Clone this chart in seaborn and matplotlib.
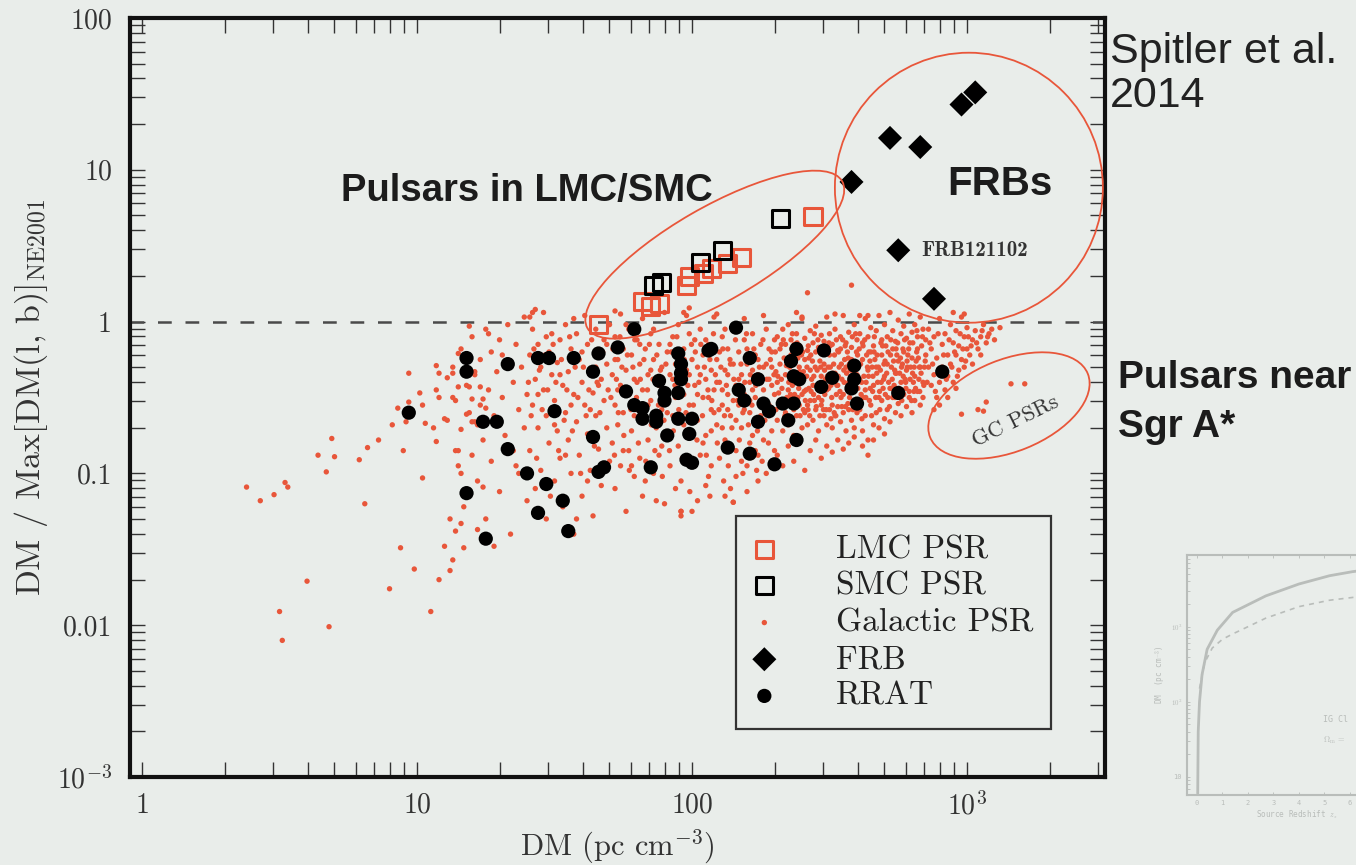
import numpy as np
import pandas as pd
import matplotlib
matplotlib.use("Agg")
import matplotlib.pyplot as plt
import seaborn as sns
from matplotlib.patches import Ellipse
from matplotlib.transforms import IdentityTransform
from matplotlib.ticker import LogLocator, NullFormatter

# ---------------- data: log10(DM), log10(DM / DMmax) ----------------
lmc_log_dm    = [1.66, 1.82, 1.85, 1.88, 1.98, 1.99, 2.04, 2.07, 2.13, 2.18, 2.44]
lmc_log_ratio = [-0.02, 0.13, 0.10, 0.12, 0.24, 0.30, 0.32, 0.35, 0.38, 0.42, 0.69]
smc_log_dm    = [1.86, 1.89, 2.03, 2.11, 2.32]
smc_log_ratio = [0.24, 0.26, 0.39, 0.47, 0.68]
frb_log_dm    = [2.58, 2.72, 2.83, 2.98, 3.03, 2.75, 2.88]
frb_log_ratio = [0.92, 1.21, 1.15, 1.43, 1.51, 0.47, 0.15]

rrat_log_dm = [0.97,1.18,1.18,1.24,1.29,1.33,1.33,1.18,1.40,1.47,
               1.44,1.53,1.55,1.25,1.44,1.48,1.57,1.66,1.64,1.73,
               1.79,2.16,1.50,1.64,1.66,1.68,1.85,1.76,1.79,1.82,
               1.82,1.87,1.87,1.88,1.90,1.90,1.95,1.96,1.96,1.96,
               1.95,1.91,1.95,2.00,1.99,1.98,2.00,2.06,2.07,2.13,
               2.21,2.24,2.17,2.19,2.26,2.28,2.24,2.33,2.37,2.35,
               2.38,2.21,2.30,2.38,2.36,2.37,2.39,2.48,2.47,2.51,
               2.59,2.59,2.58,2.60,2.75,2.91]
rrat_log_ratio = [-0.60,-0.24,-0.33,-0.66,-0.66,-0.28,-0.84,-1.13,-1.00,-1.07,
                  -1.26,-1.18,-1.38,-1.43,-0.24,-0.24,-0.24,-0.21,-0.33,-0.17,
                  -0.05,-0.04,-0.59,-0.76,-0.99,-0.96,-0.96,-0.46,-0.55,-0.57,
                  -0.64,-0.62,-0.66,-0.39,-0.47,-0.52,-0.21,-0.28,-0.34,-0.38,
                  -0.47,-0.75,-0.64,-0.64,-0.74,-0.91,-0.93,-0.19,-0.18,-0.83,
                  -0.24,-0.38,-0.45,-0.52,-0.54,-0.59,-0.66,-0.54,-0.54,-0.65,
                  -0.78,-0.87,-0.94,-0.18,-0.26,-0.36,-0.38,-0.19,-0.43,-0.37,
                  -0.29,-0.38,-0.44,-0.54,-0.47,-0.33]

# Galactic pulsars, [log10 DM, log10 ratio] pairs, grouped by DM range
galactic_tail = [[0.38,-1.09],[0.43,-1.18],[0.48,-1.14],[0.52,-1.06],[0.53,-1.09],[0.64,-0.88],[0.67,-0.99],
    [0.69,-0.77],[0.70,-0.89],[0.79,-0.91],[0.81,-1.20],[0.82,-0.83],[0.86,-0.78],[0.91,-0.68],[0.93,-0.57],
    [0.95,-0.85],[0.96,-0.66],[0.97,-0.34],[0.97,-0.53],[1.01,-0.47],[1.02,-0.55],[1.02,-1.03],[1.03,-0.67],
    [1.06,-0.70],[1.07,-0.79],[1.07,-0.29],[1.07,-0.45],[1.08,-0.34],[1.11,-0.65],[1.13,-0.34],[1.14,-0.85],
    [0.94,-1.49],[0.99,-1.63],[1.08,-1.70],[1.10,-1.48],[1.13,-1.57],[1.12,-1.64],[0.60,-1.71],[0.50,-1.91],
    [0.51,-2.10],[0.68,-2.01],[0.90,-1.76],[1.05,-1.91],[1.15,-0.21],[1.21,-0.33],[1.26,-0.08],[1.20,-0.66],
    [1.15,-0.85],[1.16,-1.00],[1.24,-1.09],[1.12,-1.30],[1.16,-1.33],[1.22,-1.37],[1.17,-1.49],[1.11,-0.37],
    [1.15,-0.43],[1.19,-0.43],[1.23,-0.43],[1.08,-0.50],[1.13,-0.50],[1.20,-0.51],[1.24,-0.51],[1.25,-0.57],
    [1.18,-0.61],[1.10,-0.64],[1.21,-0.66]]
galactic_a = [[1.13,-0.30],[1.14,-0.52],[1.15,-0.95],[1.16,-0.18],[1.16,-0.71],[1.17,-1.22],[1.18,-0.42],
    [1.19,-0.60],[1.20,-0.10],[1.20,-0.88],[1.21,-0.35],[1.22,-1.05],[1.23,-0.25],[1.23,-0.55],[1.24,-0.78],
    [1.25,-0.05],[1.25,-1.30],[1.26,-0.45],[1.27,-0.20],[1.27,-0.92],[1.28,-0.62],[1.29,-0.33],[1.30,-0.12],
    [1.30,-1.12],[1.31,-0.50],[1.32,-0.75],[1.33,-0.28],[1.33,-0.02],[1.34,-1.40],[1.35,-0.40],[1.35,-0.85],
    [1.36,-0.15],[1.37,-0.58],[1.37,-1.00],[1.38,-0.30],[1.39,-0.70],[1.39,0.03],[1.40,-0.48],[1.40,-1.18],
    [1.14,-1.38],[1.19,-0.03],[1.28,-1.48],[1.22,-0.68],[1.31,-0.22],[1.36,-0.95]]
galactic_b = [[1.41,-0.22],[1.41,-0.85],[1.42,-0.05],[1.42,-0.55],[1.43,-0.38],[1.43,-1.10],[1.44,-0.15],
    [1.44,-0.70],[1.45,-0.30],[1.45,-0.98],[1.46,0.06],[1.46,-0.45],[1.47,-0.62],[1.47,-1.30],[1.48,-0.20],
    [1.48,-0.80],[1.49,-0.35],[1.49,-0.08],[1.50,-0.52],[1.50,-1.05],[1.51,-0.27],[1.51,-0.72],[1.52,-0.12],
    [1.52,-0.90],[1.53,-0.42],[1.53,-1.22],[1.54,-0.02],[1.54,-0.60],[1.55,-0.33],[1.55,-0.78],[1.56,-0.18],
    [1.56,-1.00],[1.57,-0.48],[1.57,-1.40],[1.58,-0.08],[1.58,-0.66],[1.59,-0.25],[1.59,-0.88],[1.60,-0.40],
    [1.60,-1.15],[1.61,0.04],[1.61,-0.55],[1.62,-0.15],[1.62,-0.74],[1.63,-0.32],[1.63,-0.98],[1.64,-0.47],
    [1.64,-1.28],[1.65,-0.05],[1.65,-0.62],[1.66,-0.22],[1.66,-0.84],[1.67,-0.38],[1.67,-1.08],[1.68,-0.12],
    [1.68,-0.52],[1.69,-0.70],[1.69,-0.28],[1.70,-0.92],[1.70,-0.02],[1.44,-0.48],[1.47,-0.10],[1.52,-0.35],
    [1.56,-0.55],[1.60,-0.20],[1.63,-0.58],[1.66,-0.42],[1.69,-0.15],[1.58,-1.30],[1.50,-0.68],[1.54,-0.88],
    [1.62,-1.05],[1.43,0.08],[1.65,-0.30],[1.57,0.02],
    [1.405,-0.40],[1.415,-0.62],[1.425,-0.18],[1.435,-0.90],[1.445,-0.32],[1.455,-0.58],[1.465,-0.22],
    [1.475,-0.45],[1.485,-1.15],[1.495,-0.15],[1.505,-0.40],[1.515,-0.85],[1.525,-0.25],[1.535,-0.65],
    [1.545,-0.45],[1.555,-0.10],[1.565,-0.72],[1.575,-0.30],[1.585,-0.50],[1.595,-1.00],[1.605,-0.30],
    [1.615,-0.62],[1.625,-0.45],[1.635,-0.12],[1.645,-0.82],[1.655,-0.40],[1.665,-0.60],[1.675,-0.20],
    [1.685,-0.95],[1.695,-0.45]]
galactic_c = [[1.71,-0.35],[1.71,-0.80],[1.72,-0.10],[1.72,-0.55],[1.72,-1.10],[1.73,-0.25],[1.73,-0.68],
    [1.74,-0.42],[1.74,0.05],[1.74,-0.95],[1.75,-0.18],[1.75,-0.60],[1.76,-0.32],[1.76,-1.25],[1.77,-0.05],
    [1.77,-0.48],[1.77,-0.85],[1.78,-0.22],[1.78,-0.72],[1.79,-0.38],[1.79,-1.02],[1.80,-0.12],[1.80,-0.58],
    [1.81,-0.28],[1.81,-0.90],[1.82,0.02],[1.82,-0.45],[1.82,-1.15],[1.83,-0.18],[1.83,-0.65],[1.84,-0.35],
    [1.84,-0.78],[1.85,-0.08],[1.85,-0.52],[1.86,-0.25],[1.86,-1.00],[1.87,-0.40],[1.87,-0.70],[1.88,-0.15],
    [1.88,-0.88],[1.89,-0.30],[1.89,-0.58],[1.90,0.06],[1.90,-0.45],[1.90,-1.20],[1.91,-0.20],[1.91,-0.75],
    [1.92,-0.35],[1.92,-0.95],[1.93,-0.10],[1.93,-0.62],[1.94,-0.28],[1.94,-0.50],[1.95,-0.82],[1.95,-0.02],
    [1.96,-0.40],[1.96,-1.05],[1.97,-0.18],[1.97,-0.68],[1.98,-0.32],[1.98,-0.90],[1.99,-0.08],[1.99,-0.55],
    [2.00,-0.25],[2.00,-0.75],[1.73,-0.45],[1.76,-0.02],[1.79,-0.62],[1.81,-0.15],[1.84,-0.55],[1.86,-0.05],
    [1.88,-0.42],[1.91,-0.60],[1.93,-0.38],[1.95,-0.22],[1.97,-0.48],[1.99,-0.35],[1.75,-0.85],[1.80,-0.40],
    [1.85,-0.32],[1.89,-0.82],[1.92,-0.15],[1.96,-0.62],[1.98,0.04],[1.78,-0.95],[1.83,-1.05],[1.87,-1.18],
    [1.94,-1.10],[1.96,-1.25],[1.72,-0.25],
    [1.705,-0.50],[1.712,-0.18],[1.718,-0.88],[1.725,-0.38],[1.732,-0.60],[1.738,-0.10],[1.745,-0.30],
    [1.752,-0.75],[1.758,-0.45],[1.765,-0.22],[1.772,-0.98],[1.778,-0.58],[1.785,-0.30],[1.792,-0.12],
    [1.798,-0.50],[1.805,-0.80],[1.812,-0.38],[1.818,-0.62],[1.825,-0.25],[1.832,-0.92],[1.838,-0.45],
    [1.845,-0.15],[1.852,-0.68],[1.858,-0.38],[1.865,-0.85],[1.872,-0.22],[1.878,-0.55],[1.885,-0.32],
    [1.892,-1.02],[1.898,-0.65],[1.905,-0.28],[1.912,-0.48],[1.918,-0.85],[1.925,-0.20],[1.932,-0.72],
    [1.938,-0.42],[1.945,-0.10],[1.952,-0.58],[1.958,-0.32],[1.965,-0.90],[1.972,-0.25],[1.978,-0.60],
    [1.985,-0.42],[1.992,-1.12],[1.998,-0.15]]
galactic_d = [[2.01,-0.42],[2.01,-0.12],[2.02,-0.65],[2.02,-0.30],[2.03,-0.88],[2.03,-0.05],[2.04,-0.50],
    [2.04,-0.22],[2.05,-0.75],[2.05,-0.38],[2.06,-1.02],[2.06,-0.15],[2.07,-0.58],[2.07,-0.32],[2.08,-0.45],
    [2.08,0.03],[2.09,-0.68],[2.09,-0.25],[2.10,-0.90],[2.10,-0.40],[2.11,-0.10],[2.11,-0.55],[2.12,-0.32],
    [2.12,-0.78],[2.13,-0.48],[2.13,-0.18],[2.14,-1.10],[2.14,-0.62],[2.15,-0.28],[2.15,-0.05],[2.16,-0.42],
    [2.16,-0.85],[2.17,-0.20],[2.17,-0.55],[2.18,-0.35],[2.18,-0.70],[2.19,-0.12],[2.19,-0.48],[2.20,-0.95],
    [2.20,-0.28],[2.21,-0.60],[2.21,-0.40],[2.22,-0.08],[2.22,-0.75],[2.23,-0.50],[2.23,-0.22],[2.24,-0.35],
    [2.24,-0.88],[2.25,-0.15],[2.25,-0.62],[2.26,-0.45],[2.26,-0.30],[2.27,-1.00],[2.27,-0.05],[2.28,-0.55],
    [2.28,-0.38],[2.29,-0.20],[2.29,-0.72],[2.30,-0.48],[2.30,-0.85],[2.02,-0.48],[2.04,-0.80],[2.05,-0.12],
    [2.07,-0.95],[2.08,-0.60],[2.09,-0.40],[2.11,-0.70],[2.12,-0.05],[2.13,-0.35],[2.15,-0.52],[2.16,-0.65],
    [2.17,-0.38],[2.18,-0.92],[2.19,-0.58],[2.20,-0.18],[2.21,-0.80],[2.22,-0.45],[2.23,-0.65],[2.24,-0.25],
    [2.25,-0.40],[2.26,-0.78],[2.27,-0.28],[2.28,-0.62],[2.29,-0.42],[2.30,-0.12],[2.03,-0.35],[2.06,-0.50],
    [2.10,-0.20],[2.14,-0.28],[2.18,-0.48],[2.22,-0.32],[2.26,-0.55],[2.29,-0.30],[2.01,-0.95],[2.05,-1.08],
    [2.12,-1.15],[2.16,-1.02],[2.20,-1.12],[2.24,-1.05],[2.15,-1.19],[2.09,0.05],[2.19,0.02],[2.26,0.04],
    [2.21,-0.52],[2.13,-0.58],[2.07,-0.72],[2.11,-0.45],[2.17,-0.05],[2.23,-0.85],[2.28,-0.18],[2.00,-1.25],
    [1.96,-1.28],[2.02,-1.18],
    [2.005,-0.55],[2.012,-0.20],[2.018,-0.78],[2.025,-0.40],[2.032,-0.15],[2.038,-0.62],[2.045,-0.30],
    [2.052,-0.88],[2.058,-0.45],[2.065,-0.25],[2.072,-0.52],[2.078,-0.08],[2.085,-0.35],[2.092,-0.80],
    [2.098,-0.58],[2.105,-0.30],[2.112,-0.18],[2.118,-0.62],[2.125,-0.42],[2.132,-0.95],[2.138,-0.25],
    [2.145,-0.70],[2.152,-0.38],[2.158,-0.12],[2.165,-0.52],[2.172,-0.78],[2.178,-0.28],[2.185,-0.60],
    [2.192,-0.40],[2.198,-0.08],[2.205,-0.68],[2.212,-0.35],[2.218,-0.55],[2.225,-0.18],[2.232,-0.42],
    [2.238,-0.72],[2.245,-0.30],[2.252,-0.52],[2.258,-0.12],[2.265,-0.65],[2.272,-0.38],[2.278,-0.80],
    [2.285,-0.25],[2.292,-0.58],[2.298,-0.35],[2.115,-1.05],[2.185,-1.00],[2.255,-0.92],[2.065,-1.15],
    [2.235,-0.98]]
galactic_e = [[2.31,-0.40],[2.32,-0.28],[2.33,-0.52],[2.34,-0.35],[2.35,-0.45],[2.36,-0.22],[2.37,-0.58],
    [2.38,-0.38],[2.39,-0.30],[2.40,-0.48],[2.41,-0.25],[2.42,-0.55],[2.43,-0.32],[2.44,-0.42],[2.45,-0.20],
    [2.46,-0.50],[2.47,-0.36],[2.48,-0.28],[2.49,-0.45],[2.50,-0.22],[2.51,-0.55],[2.52,-0.34],[2.53,-0.42],
    [2.54,-0.18],[2.55,-0.48],[2.56,-0.30],[2.57,-0.40],[2.58,-0.25],[2.59,-0.52],[2.60,-0.35],
    [2.31,-0.10],[2.32,-0.18],[2.33,-0.05],[2.34,-0.15],[2.35,-0.02],[2.36,-0.12],[2.37,-0.20],[2.38,-0.08],
    [2.39,-0.16],[2.40,0.02],[2.41,-0.11],[2.42,-0.19],[2.43,-0.06],[2.44,-0.14],[2.45,-0.03],[2.46,-0.17],
    [2.47,-0.09],[2.48,-0.13],[2.49,0.03],[2.50,-0.08],[2.51,-0.15],[2.52,-0.05],[2.53,-0.19],[2.54,-0.10],
    [2.55,0.04],[2.56,-0.14],[2.57,-0.07],[2.58,-0.17],[2.59,-0.02],[2.60,-0.12],
    [2.31,-0.65],[2.32,-0.55],[2.33,-0.72],[2.34,-0.60],[2.35,-0.68],[2.36,-0.50],[2.37,-0.75],[2.38,-0.62],
    [2.39,-0.55],[2.40,-0.70],[2.41,-0.60],[2.42,-0.68],[2.43,-0.52],[2.44,-0.65],[2.45,-0.58],[2.46,-0.72],
    [2.47,-0.55],[2.48,-0.62],[2.49,-0.68],[2.50,-0.58],[2.51,-0.70],[2.52,-0.62],[2.53,-0.56],[2.54,-0.66],
    [2.55,-0.60],[2.56,-0.72],[2.57,-0.58],[2.58,-0.65],[2.59,-0.70],[2.60,-0.60],
    [2.305,-0.33],[2.315,-0.47],[2.325,-0.38],[2.335,-0.24],[2.345,-0.50],[2.355,-0.30],[2.365,-0.42],
    [2.375,-0.27],[2.385,-0.50],[2.395,-0.40],[2.405,-0.33],[2.415,-0.45],[2.425,-0.24],[2.435,-0.38],
    [2.445,-0.52],[2.455,-0.32],[2.465,-0.26],[2.475,-0.46],[2.485,-0.38],[2.495,-0.30],[2.505,-0.42],
    [2.515,-0.28],[2.525,-0.48],[2.535,-0.30],[2.545,-0.38],[2.555,-0.25],[2.565,-0.45],[2.575,-0.32],
    [2.585,-0.43],[2.595,-0.27],
    [2.31,-0.88],[2.33,-0.95],[2.35,-0.82],[2.37,-0.92],[2.39,-0.80],[2.41,-0.98],[2.43,-0.85],[2.45,-0.78],
    [2.47,-0.90],[2.49,-0.82],[2.51,-0.86],[2.53,-0.78],[2.55,-0.84],[2.57,-0.80],[2.59,-0.76],
    [2.305,-0.58],[2.325,-0.15],[2.345,-0.62],[2.365,-0.08],[2.385,-0.24],[2.405,-0.58],[2.425,-0.44],
    [2.445,-0.08],[2.465,-0.62],[2.485,-0.20],[2.505,-0.64],[2.525,-0.12],[2.545,-0.56],[2.565,-0.20],
    [2.585,-0.58],[2.595,-0.08],[2.38,0.06],[2.52,0.05],
    [2.303,-0.20],[2.312,-0.36],[2.318,-0.52],[2.327,-0.44],[2.332,-0.12],[2.338,-0.62],[2.343,-0.29],
    [2.352,-0.40],[2.358,-0.55],[2.363,-0.18],[2.368,-0.34],[2.373,-0.48],[2.382,-0.14],[2.388,-0.44],
    [2.393,-0.62],[2.398,-0.22],[2.403,-0.38],[2.412,-0.52],[2.418,-0.30],[2.423,-0.16],[2.428,-0.62],
    [2.433,-0.46],[2.438,-0.26],[2.443,-0.36],[2.452,-0.56],[2.458,-0.12],[2.463,-0.44],[2.468,-0.30],
    [2.473,-0.20],[2.478,-0.58],[2.483,-0.48],[2.492,-0.36],[2.498,-0.14],[2.503,-0.30],[2.508,-0.50],
    [2.513,-0.40],[2.518,-0.22],[2.523,-0.62],[2.532,-0.36],[2.538,-0.46],[2.543,-0.28],[2.548,-0.12],
    [2.553,-0.40],[2.558,-0.56],[2.562,-0.34],[2.568,-0.24],[2.573,-0.50],[2.578,-0.40],[2.583,-0.10],
    [2.588,-0.34],[2.593,-0.44],[2.598,-0.20]]
galactic_core = [[2.352,-0.25],[2.358,-0.48],[2.362,-0.36],[2.372,-0.15],[2.378,-0.54],[2.392,-0.33],
    [2.402,-0.20],[2.408,-0.46],[2.417,-0.36],[2.422,-0.58],[2.432,-0.22],[2.442,-0.48],[2.448,-0.30],
    [2.457,-0.42],[2.462,-0.18],[2.472,-0.52],[2.482,-0.32],[2.488,-0.58],[2.497,-0.44],[2.502,-0.16],
    [2.512,-0.34],[2.517,-0.60],[2.527,-0.42],[2.533,-0.20],[2.542,-0.50],[2.552,-0.32],[2.557,-0.16],
    [2.567,-0.54],[2.572,-0.28],[2.582,-0.46],[2.592,-0.36],[2.602,-0.22],[2.607,-0.54],[2.617,-0.40],
    [2.622,-0.16],[2.632,-0.50],[2.642,-0.36],[2.647,-0.26],[2.657,-0.46],[2.662,-0.20],[2.672,-0.34],
    [2.682,-0.46],[2.687,-0.14],[2.697,-0.38],[2.702,-0.26],[2.712,-0.50],[2.722,-0.22],[2.727,-0.44],
    [2.737,-0.32],[2.742,-0.18],[2.752,-0.46],[2.762,-0.30],[2.767,-0.18],[2.777,-0.40],[2.782,-0.26],
    [2.792,-0.14],[2.802,-0.34],[2.807,-0.46],[2.817,-0.20],[2.827,-0.30]]
galactic_f = [[2.61,-0.38],[2.62,-0.25],[2.63,-0.45],[2.64,-0.32],[2.65,-0.20],[2.66,-0.42],[2.67,-0.30],
    [2.68,-0.50],[2.69,-0.22],[2.70,-0.36],[2.71,-0.28],[2.72,-0.44],[2.73,-0.18],[2.74,-0.34],[2.75,-0.26],
    [2.76,-0.40],[2.77,-0.20],[2.78,-0.32],[2.79,-0.46],[2.80,-0.24],[2.81,-0.36],[2.82,-0.18],[2.83,-0.30],
    [2.84,-0.40],[2.85,-0.22],
    [2.61,-0.08],[2.62,-0.14],[2.63,0.02],[2.64,-0.10],[2.65,-0.04],[2.66,-0.16],[2.67,-0.06],[2.68,0.04],
    [2.69,-0.12],[2.70,-0.02],[2.71,-0.10],[2.72,0.06],[2.73,-0.06],[2.74,-0.13],[2.75,0.01],[2.76,-0.08],
    [2.77,-0.03],[2.78,-0.11],[2.79,0.05],[2.80,-0.07],[2.81,-0.02],[2.82,-0.10],[2.83,0.03],[2.84,-0.05],
    [2.85,-0.12],
    [2.61,-0.58],[2.62,-0.72],[2.63,-0.62],[2.64,-0.78],[2.65,-0.55],[2.66,-0.68],[2.67,-0.60],[2.68,-0.70],
    [2.69,-0.52],[2.70,-0.64],[2.71,-0.58],[2.72,-0.66],[2.73,-0.50],[2.74,-0.60],[2.75,-0.54],[2.76,-0.62],
    [2.77,-0.48],[2.78,-0.56],[2.79,-0.50],[2.80,-0.60],[2.81,-0.52],[2.82,-0.46],[2.83,-0.55],[2.84,-0.50],
    [2.605,-0.30],[2.615,-0.48],[2.625,-0.36],[2.635,-0.22],[2.645,-0.52],[2.655,-0.30],[2.665,-0.25],
    [2.675,-0.40],[2.685,-0.32],[2.695,-0.44],[2.705,-0.16],[2.715,-0.40],[2.725,-0.30],[2.735,-0.42],
    [2.745,-0.22],[2.755,-0.34],[2.765,-0.28],[2.775,-0.38],[2.785,-0.22],[2.795,-0.30],[2.805,-0.40],
    [2.815,-0.26],[2.825,-0.38],[2.835,-0.16],[2.845,-0.30],
    [2.62,-0.82],[2.66,-0.78],[2.70,-0.74],[2.64,-0.88],
    [2.603,-0.44],[2.608,-0.18],[2.613,-0.28],[2.618,-0.64],[2.623,-0.50],[2.628,-0.12],[2.633,-0.40],
    [2.638,-0.30],[2.643,-0.20],[2.648,-0.44],[2.653,-0.62],[2.658,-0.36],[2.663,-0.10],[2.668,-0.50],
    [2.673,-0.22],[2.678,-0.30],[2.683,-0.58],[2.688,-0.40],[2.693,-0.16],[2.698,-0.28],[2.703,-0.48],
    [2.708,-0.34],[2.713,-0.20],[2.718,-0.56],[2.723,-0.12],[2.728,-0.38],[2.733,-0.26],[2.738,-0.50],
    [2.743,-0.34],[2.748,-0.14],[2.753,-0.44],[2.758,-0.24],[2.763,-0.52],[2.768,-0.36],[2.773,-0.12],
    [2.778,-0.44],[2.783,-0.30],[2.788,-0.18],[2.793,-0.38],[2.798,-0.52],[2.803,-0.14],[2.808,-0.30],
    [2.813,-0.44],[2.818,-0.06],[2.823,-0.24],[2.828,-0.46],[2.833,-0.34],[2.838,-0.10],[2.843,-0.42],
    [2.848,-0.26]]
galactic_g = [[2.86,-0.30],[2.86,-0.05],[2.87,-0.42],[2.87,-0.18],[2.88,-0.10],[2.88,-0.35],[2.89,-0.50],
    [2.89,-0.24],[2.90,0.02],[2.90,-0.40],[2.91,-0.15],[2.91,-0.30],[2.92,-0.45],[2.92,-0.08],[2.93,-0.22],
    [2.93,-0.36],[2.94,-0.02],[2.94,-0.28],[2.95,-0.14],[2.95,-0.40],[2.96,-0.22],[2.96,-0.06],[2.97,-0.32],
    [2.97,-0.16],[2.98,-0.25],[2.98,0.03],[2.99,-0.10],[2.99,-0.30],[3.00,-0.18],[3.00,-0.04],[3.01,-0.22],
    [3.02,-0.12],[3.02,-0.28],[3.03,-0.06],[3.04,-0.18],[3.05,-0.10],[3.05,-0.22],[3.06,-0.02],[3.07,-0.14],
    [3.08,-0.08],[3.09,-0.05],[3.10,-0.12],[2.88,-0.58],[2.90,-0.55],[2.93,-0.50],[2.96,-0.44],[3.12,-0.04],
    [2.855,-0.40],[2.865,-0.14],[2.875,-0.28],[2.885,-0.46],[2.895,-0.08],[2.905,-0.32],[2.915,-0.22],
    [2.925,-0.38],[2.935,-0.12],[2.945,-0.30],[2.955,-0.20],[2.965,-0.36],[2.975,-0.08],[2.985,-0.18],
    [2.995,-0.26],[3.005,-0.10],[3.015,-0.16],[3.035,-0.14],[3.055,-0.06],[3.075,-0.10]]
galactic_outliers = [[1.42,0.06],[1.72,0.07],[1.97,0.06],[1.99,0.09],[2.42,0.19],[2.58,0.24],[2.61,0.04],
    [2.64,0.04],[2.95,0.06],[2.99,0.05],[2.40,0.03],[1.41,0.03],[2.15,-1.19],[1.96,-1.25]]
galactic_gc = [[2.98,-0.61],[3.04,-0.58],[3.06,-0.59],[3.07,-0.53],[3.16,-0.41],[3.21,-0.41]]

# faint inset (part of a second figure at the slide edge)
inset_z_solid  = [0.03, 0.05, 0.10, 0.20, 0.40, 0.80, 1.40, 2.70, 4.00, 5.20, 6.10, 7.50]
inset_dm_solid = [6, 40, 100, 230, 500, 900, 1550, 2570, 3700, 4770, 5400, 6200]
inset_z_dash   = [0.10, 0.30, 0.60, 1.00, 1.40, 2.00, 2.70, 4.00, 5.20, 6.10, 7.50]
inset_dm_dash  = [150, 330, 520, 680, 800, 1000, 1300, 1850, 2250, 2450, 2700]

x_ticks = [1, 10, 100, 1000]
x_tick_labels = ["1", "10", "100", r"$10^3$"]
y_ticks = [1e-3, 1e-2, 1e-1, 1, 10, 100]
y_tick_labels = [r"$10^{-3}$", "0.01", "0.1", "1", "10", "100"]

# ---------------- style ----------------
BG = "#e9edea"
RED = "#e8563a"
DARK = "#1c1c1c"

sns.set_theme(style="ticks")
plt.rcParams["font.family"] = ["cmr10", "DejaVu Serif"]
plt.rcParams["mathtext.fontset"] = "cm"
plt.rcParams["axes.unicode_minus"] = False
plt.rcParams["axes.formatter.use_mathtext"] = True

W, H = 1356, 865
fig = plt.figure(figsize=(W / 100, H / 100), dpi=100, facecolor=BG)
ax = fig.add_axes([130 / W, 1 - 777 / H, 975 / W, 759 / H])
ax.set_facecolor(BG)
ax.set_xscale("log")
ax.set_yscale("log")
ax.set_xlim(0.904, 3176)
ax.set_ylim(1e-3, 100)


def frame(log_dm, log_ratio):
    return pd.DataFrame({"dm": 10 ** np.asarray(log_dm, float),
                         "ratio": 10 ** np.asarray(log_ratio, float)})


galactic = np.array(galactic_tail + galactic_a + galactic_b + galactic_c + galactic_d +
                    galactic_e + galactic_core + galactic_f + galactic_g + galactic_outliers +
                    galactic_gc)
gal_df = frame(galactic[:, 0], galactic[:, 1])

sns.scatterplot(data=gal_df, x="dm", y="ratio", ax=ax, s=15, color=RED, edgecolor="none",
                linewidth=0, label="Galactic PSR", zorder=2)
sns.scatterplot(data=frame(rrat_log_dm, rrat_log_ratio), x="dm", y="ratio", ax=ax, s=105,
                color="black", edgecolor="none", linewidth=0, label="RRAT", zorder=3)
sns.scatterplot(data=frame(lmc_log_dm, lmc_log_ratio), x="dm", y="ratio", ax=ax, marker="s",
                s=150, facecolor="none", edgecolor=RED, linewidth=2.2, label="LMC PSR", zorder=4)
sns.scatterplot(data=frame(smc_log_dm, smc_log_ratio), x="dm", y="ratio", ax=ax, marker="s",
                s=150, facecolor="none", edgecolor="black", linewidth=2.2, label="SMC PSR", zorder=4)
sns.scatterplot(data=frame(frb_log_dm, frb_log_ratio), x="dm", y="ratio", ax=ax, marker="D",
                s=150, color="black", edgecolor="none", linewidth=0, label="FRB", zorder=5)

ax.axhline(1.0, color="#4a4a4a", lw=1.8, dashes=(5.5, 5.5), zorder=1)

# axes cosmetics
for sp in ax.spines.values():
    sp.set_linewidth(3)
    sp.set_color("#111111")
ax.set_xticks(x_ticks, x_tick_labels)
ax.set_yticks(y_ticks, y_tick_labels)
ax.xaxis.set_minor_locator(LogLocator(base=10, subs=np.arange(2, 10)))
ax.yaxis.set_minor_locator(LogLocator(base=10, subs=np.arange(2, 10), numticks=20))
ax.xaxis.set_minor_formatter(NullFormatter())
ax.yaxis.set_minor_formatter(NullFormatter())
ax.tick_params(which="both", direction="in", top=True, right=True, length=11, width=1.0,
               color="#333333")
ax.tick_params(which="major", labelsize=20, labelcolor="#333333")
ax.tick_params(axis="y", which="major", pad=13)
ax.tick_params(axis="x", which="major", pad=11)
ax.set_xlabel(r"DM (pc cm$^{-3}$)", fontsize=22, color="#333333", labelpad=5)
ax.set_ylabel(r"DM / Max[DM(l, b)]$_{\rm NE2001}$", fontsize=24.5, color="#333333", labelpad=5)

# legend
handles, labels = ax.get_legend_handles_labels()
order = ["LMC PSR", "SMC PSR", "Galactic PSR", "FRB", "RRAT"]
hmap = dict(zip(labels, handles))
leg = ax.legend([hmap[k] for k in order], order, loc="lower left",
                bbox_to_anchor=(606 / 975, 48 / 759), fontsize=24, frameon=True, fancybox=False,
                framealpha=1, facecolor=BG, edgecolor="#333333", borderpad=0.55,
                handlelength=0.6, handletextpad=1.84, labelspacing=0.22, borderaxespad=0)
leg.get_frame().set_linewidth(1.6)
for t in leg.get_texts():
    t.set_color("#222222")

# annotation rings (drawn in screen pixels, anchored at data points)
def ring(dm, ratio, a_px, b_px, angle):
    cx, cy = ax.transData.transform((dm, ratio))
    e = Ellipse((cx, cy), 2 * a_px, 2 * b_px, angle=angle, transform=IdentityTransform(),
                fill=False, edgecolor=RED, lw=1.3, zorder=6)
    fig.add_artist(e)

ring(121, 2.76, 147, 47, 30)
ring(1016, 7.62, 134, 135, 0)
ring(1421, 0.28, 85, 46, 22)

SANS = "Liberation Sans"
ax.text(25.1, 7.28, "Pulsars in LMC/SMC", family=SANS, weight="bold", fontsize=27.5,
        color=DARK, ha="center", va="center", zorder=7)
ax.text(1318, 8.1, "FRBs", family=SANS, weight="bold", fontsize=29, color=DARK,
        ha="center", va="center", zorder=7)
ax.text(680, 2.93, "FRB121102", family="cmb10", fontsize=15, color="#333333",
        ha="left", va="center", zorder=7)
ax.text(1496, 0.22, "GC PSRs", fontsize=16, color="#333333", rotation=26,
        ha="center", va="center", rotation_mode="anchor", zorder=7)

fig.text(1110 / W, 1 - 63 / H, "Spitler et al.", family=SANS, fontsize=31, color="#222222",
         ha="left", va="baseline")
fig.text(1110 / W, 1 - 107 / H, "2014", family=SANS, fontsize=31, color="#222222",
         ha="left", va="baseline")
fig.text(1118 / W, 1 - 388 / H, "Pulsars near", family=SANS, weight="bold", fontsize=28,
         color=DARK, ha="left", va="baseline")
fig.text(1118 / W, 1 - 437 / H, "Sgr A*", family=SANS, weight="bold", fontsize=28,
         color=DARK, ha="left", va="baseline")

# faint inset of a second figure cut by the slide edge
GRAYL = "#b9bdba"
axin = fig.add_axes([1187 / W, 1 - 795 / H, 240 / W, 240 / H])
axin.set_facecolor(BG)
axin.set_yscale("log")
axin.set_xlim(-0.39, 9.02)
axin.set_ylim(5.75, 9000)
sns.lineplot(x=inset_z_solid, y=inset_dm_solid, ax=axin, color=GRAYL, lw=2.0, sort=False)
sns.lineplot(x=inset_z_dash, y=inset_dm_dash, ax=axin, color=GRAYL, lw=1.2, sort=False,
             linestyle=(0, (3, 3)))
for sp in axin.spines.values():
    sp.set_color(GRAYL)
    sp.set_linewidth(1.5)
axin.set_xticks(range(0, 7), [str(i) for i in range(7)])
axin.set_yticks([10, 100, 1000], ["10", r"$10^2$", r"$10^3$"])
axin.yaxis.set_minor_formatter(NullFormatter())
axin.tick_params(which="both", direction="in", length=2.5, width=0.6, colors=GRAYL,
                 labelsize=5, top=True, right=True)
for lab in axin.get_xticklabels() + axin.get_yticklabels():
    lab.set_family("DejaVu Sans Mono")
axin.set_ylabel(r"DM  (pc cm$^{-3}$)", fontsize=5.5, color=GRAYL, family="DejaVu Sans Mono",
                labelpad=2)
fig.text(1256 / W, 1 - 818 / H, r"Source Redshift $z_s$", fontsize=5.5, color=GRAYL,
         family="DejaVu Sans Mono", ha="left", va="baseline")
axin.text(4.94, 54, "IG Cl", fontsize=6, color=GRAYL, family="DejaVu Sans Mono")
axin.text(4.94, 29, r"$\Omega_{\rm m}$ =", fontsize=6, color=GRAYL)

fig.savefig("out.png", dpi=100, facecolor=BG)
